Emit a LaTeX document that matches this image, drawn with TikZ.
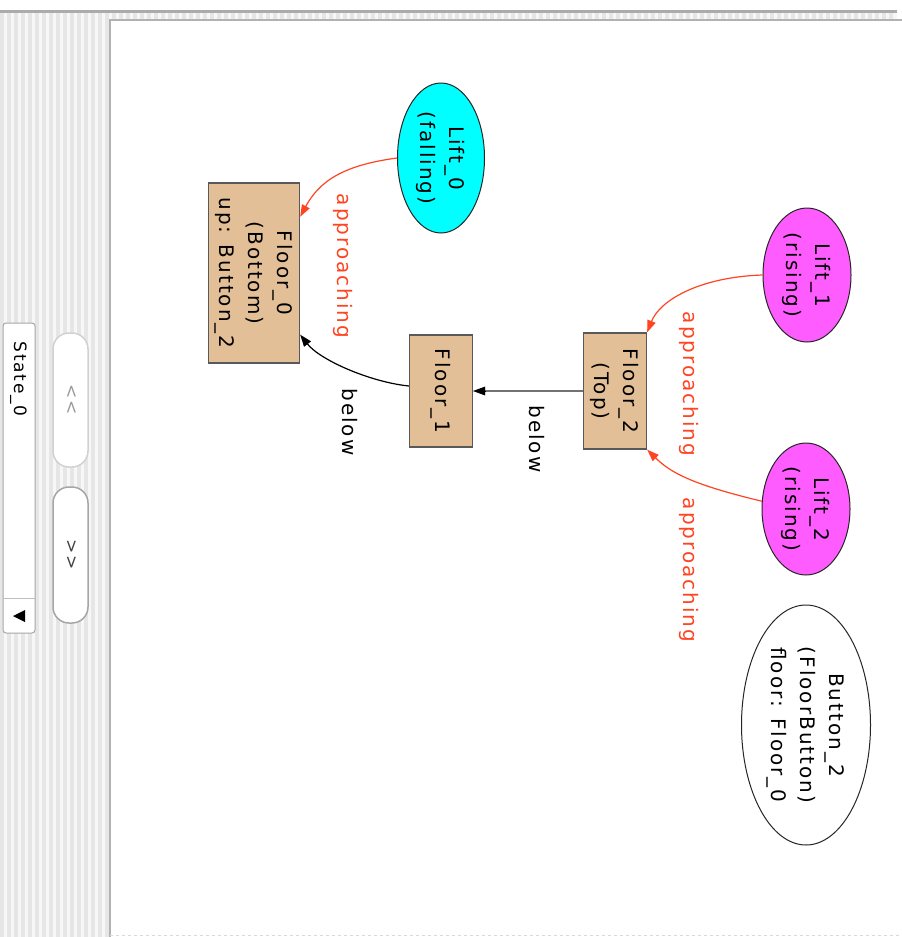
\documentclass[tikz,border=0pt]{standalone}
\usepackage{fontspec}
\setmainfont{DejaVu Sans}[LetterSpace=10]
\usepackage{graphicx}
\usetikzlibrary{positioning, arrows.meta, calc, shapes.geometric}

\definecolor{floortan}{HTML}{E3BF98}
\definecolor{liftcyan}{HTML}{00FFFF}
\definecolor{liftpink}{HTML}{FF5CFF}
\definecolor{relred}{HTML}{FF4422}
\definecolor{stripe}{HTML}{E6E6E6}

% text turned a quarter clockwise, one or more lines
\newcommand{\turned}[1]{\rotatebox{-90}{%
  \setbox\strutbox\hbox{\vrule height .7\baselineskip depth .3\baselineskip width 0pt}%
  \begin{tabular}{@{}c@{}}#1\end{tabular}}}

\begin{document}
\begin{tikzpicture}[
    x=1pt, y=-1pt,
    >={Triangle[length=12pt, width=8.5pt]},
    font=\fontsize{20}{29}\selectfont,
    floorbox/.style={draw=black!65, fill=floortan, line width=1.3pt, inner sep=1pt},
    liftnode/.style={ellipse, draw=black!85, line width=1pt, inner sep=0pt},
    rel/.style={->, relred, line width=1.2pt},
    lowrel/.style={->, line width=1.2pt},
    lbl/.style={inner sep=0pt},
    capsule/.style={fill=white, rounded corners=16pt, line width=1.5pt},
    small/.style={font=\fontsize{17}{20}\selectfont}
]
\useasboundingbox (0,0) rectangle (902,937);

% window frame
\fill[white] (0,0) rectangle (902,937);
\fill[black!3] (0,13) rectangle (897,937);
\foreach \x in {0,7,...,105} \fill[stripe] (\x,13) rectangle ++(3.5,924);
\foreach \x in {112,119,...,893} \fill[stripe] (\x,13) rectangle ++(3.5,7);
\fill[black!33] (0,10) rectangle (897,13);
\fill[white] (110,20) rectangle (902,937);
\draw[black!30, line width=1.5pt] (110,937) -- (110,20) -- (902,20);
\draw[black!15, dashed, line width=1pt] (110,935.5) -- (902,935.5);

% state chooser and buttons
\draw[black!35, fill=white, rounded corners=3pt, line width=1pt] (3,323) rectangle (35,633);
\draw[black!25, line width=1pt] (3,598) -- (35,598);
\fill (13,616) -- (25,610) -- (25,622) -- cycle;
\node[lbl, small] (state) at (18,379) {\turned{State\_0}};
\draw[capsule, draw=black!18] (53,333) rectangle (88,467);
\draw[capsule, draw=black!35] (53,487) rectangle (88,623);
\node[lbl, small, text=black!40] (prev) at (70,400) {\turned{<{}<}};
\node[lbl, small, text=black!75] (next) at (70,555) {\turned{>{}>}};

% floors
\node[floorbox, minimum width=91, minimum height=180] (floor0) at (254,273)
    {\turned{Floor\_0\\(Bottom)\\up: Button\_2}};
\node[floorbox, minimum width=63, minimum height=112] (floor1) at (441,391)
    {\turned{Floor\_1}};
\node[floorbox, minimum width=63, minimum height=116] (floor2) at (615,391)
    {\turned{Floor\_2\\(Top)}};

% lifts and button
\node[liftnode, fill=liftcyan, minimum width=87, minimum height=150] (lift0) at (441,158)
    {\turned{Lift\_0\\(falling)}};
\node[liftnode, fill=liftpink, minimum width=88, minimum height=134] (lift1) at (807,275)
    {\turned{Lift\_1\\(rising)}};
\node[liftnode, fill=liftpink, minimum width=88, minimum height=132] (lift2) at (806,509)
    {\turned{Lift\_2\\(rising)}};
\node[liftnode, fill=white, minimum width=129, minimum height=240] (button2) at (806,725)
    {\turned{Button\_2\\(FloorButton)\\floor: Floor\_0}};

% relations
\draw[rel] (lift0.west) .. controls (345,165) and (320,180) ..
    ($(floor0.north east)!0.19!(floor0.south east)$);
\draw[lowrel] ($(floor1.west)+(0,-5)$) .. controls (370,382) and (320,360) ..
    ($(floor0.north east)!0.84!(floor0.south east)$);
\draw[lowrel, black!55] (floor2.west) -- (floor1.east);
\draw[black, line width=1pt, -{Triangle[length=12pt, width=8.5pt]}] ($(floor1.east)+(12.5,0)$) -- (floor1.east);
\draw[rel] (lift1.west) .. controls (700,277) and (660,300) .. (floor2.north east);
\draw[rel] (lift2.170) .. controls (690,484) and (670,472) .. (floor2.south east);

% labels
\node[lbl, text=relred] (apr0) at (343,266) {\turned{approaching}};
\node[lbl] (blw0) at (348,422) {\turned{below}};
\node[lbl] (blw1) at (535,439) {\turned{below}};
\node[lbl, text=relred] (apr1) at (689,384) {\turned{approaching}};
\node[lbl, text=relred] (apr2) at (689,570) {\turned{approaching}};
\end{tikzpicture}
\end{document}
